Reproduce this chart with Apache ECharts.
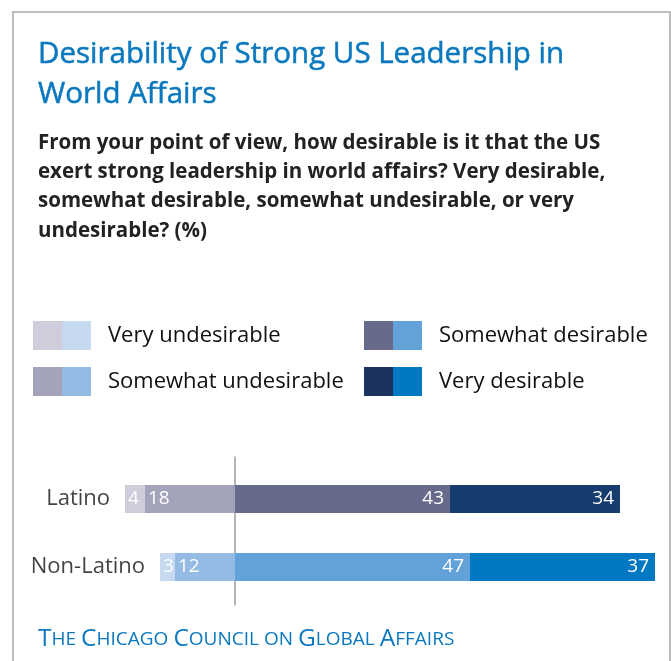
<!DOCTYPE html>
<html>
<head>
<meta charset="utf-8">
<script src="https://cdn.jsdelivr.net/npm/echarts@6/dist/echarts.min.js"></script>
<style>
  html, body { margin: 0; padding: 0; background: #fff; }
  #chart { width: 671px; height: 661px; }
</style>
</head>
<body>
<div id="chart"></div>
<script>
// Survey groups and answer shares (%)
const groups = ['Latino', 'Non-Latino'];
const veryUndesirable = [4, 3];
const somewhatUndesirable = [18, 12];
const somewhatDesirable = [43, 47];
const veryDesirable = [34, 37];

// Palette: one shade per group for each answer
const palette = {
  'Very undesirable':     ['#cfcddc', '#c6d9f1'],
  'Somewhat undesirable': ['#a3a3b9', '#94bbe3'],
  'Somewhat desirable':   ['#676a8b', '#63a2d8'],
  'Very desirable':       ['#163d6e', '#0079c2']
};
const legendPalette = {
  'Very undesirable':     ['#cfcddc', '#c6d9f1'],
  'Somewhat undesirable': ['#a3a3b9', '#94bbe3'],
  'Somewhat desirable':   ['#676a8b', '#63a2d8'],
  'Very desirable':       ['#1b325f', '#0079c2']
};

const FONT = '"Open Sans", "Noto Sans", sans-serif';
const BLUE = '#0a78bf';

// legend swatch split into the two group shades
function splitSwatch(name) {
  const c = legendPalette[name];
  return {
    type: 'linear', x: 0, y: 0, x2: 1, y2: 0,
    colorStops: [
      { offset: 0, color: c[0] }, { offset: 0.5, color: c[0] },
      { offset: 0.5, color: c[1] }, { offset: 1, color: c[1] }
    ]
  };
}

function coloured(name, values, sign) {
  return values.map((v, i) => ({
    value: sign * v,
    itemStyle: { color: palette[name][i] }
  }));
}

const valueLabel = (position, distance) => ({
  show: true,
  position: position,
  distance: distance,
  color: '#ffffff',
  fontFamily: FONT,
  fontSize: 19,
  formatter: p => Math.abs(p.value)
});

function legendBlock(names, left) {
  return {
    data: names.map(n => ({ name: n, icon: 'rect', itemStyle: { color: splitSwatch(n) } })),
    orient: 'vertical',
    left: left,
    top: 316,
    itemWidth: 58,
    itemHeight: 29,
    itemGap: 17,
    selectedMode: false,
    textStyle: { fontFamily: FONT, fontSize: 22, color: '#111111', padding: [0, 0, 0, 12] }
  };
}

const chart = echarts.init(document.getElementById('chart'), null, { renderer: 'canvas' });

chart.setOption({
  backgroundColor: '#ffffff',
  animation: false,
  title: [
    {
      text: 'Desirability of Strong US Leadership in\nWorld Affairs',
      left: 33, top: 30,
      textStyle: {
        fontFamily: FONT, fontSize: 29.5, fontWeight: 'normal', color: BLUE, lineHeight: 40,
        textBorderColor: BLUE, textBorderWidth: 0.5
      }
    },
    {
      text: 'From your point of view, how desirable is it that the US\nexert strong leadership in world affairs? Very desirable,\nsomewhat desirable, somewhat undesirable, or very\nundesirable? (%)',
      left: 33, top: 123,
      textStyle: { fontFamily: FONT, fontSize: 20.5, fontWeight: 'bold', color: '#222222', lineHeight: 29.4 }
    },
    {
      text: '{b|T}{s|HE} {b|C}{s|HICAGO} {b|C}{s|OUNCIL} {s|ON} {b|G}{s|LOBAL} {b|A}{s|FFAIRS}',
      left: 33, top: 622,
      textStyle: {
        fontWeight: 'normal',
        rich: {
          b: { fontFamily: FONT, fontSize: 24.5, fontWeight: 'normal', color: BLUE },
          s: { fontFamily: FONT, fontSize: 19, fontWeight: 'normal', color: BLUE }
        }
      }
    }
  ],
  legend: [
    legendBlock(['Very undesirable', 'Somewhat undesirable'], 28),
    legendBlock(['Somewhat desirable', 'Very desirable'], 359)
  ],
  grid: [
    { left: 110, right: 11, top: 465, height: 136 },
    { left: 110, right: 11, top: 457, height: 148 }
  ],
  xAxis: [
    { type: 'value', gridIndex: 0, min: -25, max: 85, show: false },
    { type: 'value', gridIndex: 1, min: -25, max: 85, show: false }
  ],
  yAxis: [
    {
      type: 'category', gridIndex: 0, data: groups, inverse: true,
      axisLine: { show: false }, axisTick: { show: false }, axisLabel: { show: false }
    },
    {
      // vertical zero line, a little taller than the bar area
      type: 'category', gridIndex: 1, data: [''],
      axisLine: { show: true, onZero: true, lineStyle: { color: '#9c9c9c', width: 1.5 } },
      axisTick: { show: false }, axisLabel: { show: false }
    }
  ],
  series: [
    {
      name: 'Somewhat undesirable', type: 'bar', stack: 'total', barWidth: 28,
      data: coloured('Somewhat undesirable', somewhatUndesirable, -1),
      label: valueLabel('insideLeft', 3)
    },
    {
      name: 'Very undesirable', type: 'bar', stack: 'total', barWidth: 28,
      data: coloured('Very undesirable', veryUndesirable, -1),
      label: valueLabel('insideLeft', 3)
    },
    {
      name: 'Somewhat desirable', type: 'bar', stack: 'total', barWidth: 28,
      data: coloured('Somewhat desirable', somewhatDesirable, 1),
      label: valueLabel('insideRight', 6)
    },
    {
      name: 'Very desirable', type: 'bar', stack: 'total', barWidth: 28,
      data: coloured('Very desirable', veryDesirable, 1),
      label: valueLabel('insideRight', 6)
    },
    {
      // group names sit just left of each bar's far end
      name: 'groupNames', type: 'scatter', symbolSize: 0, silent: true,
      data: groups.map((g, i) => [-(veryUndesirable[i] + somewhatUndesirable[i]), g]),
      label: {
        show: true, position: 'left', distance: 15,
        fontFamily: FONT, fontSize: 22, color: '#111111',
        formatter: p => p.value[1]
      }
    }
  ],
  graphic: [
    {
      type: 'rect', silent: true, z: -1,
      shape: { x: 13, y: 12, width: 657, height: 700 },
      style: { fill: 'none', stroke: '#a8a8a8', lineWidth: 1.5 }
    }
  ]
});
</script>
</body>
</html>
